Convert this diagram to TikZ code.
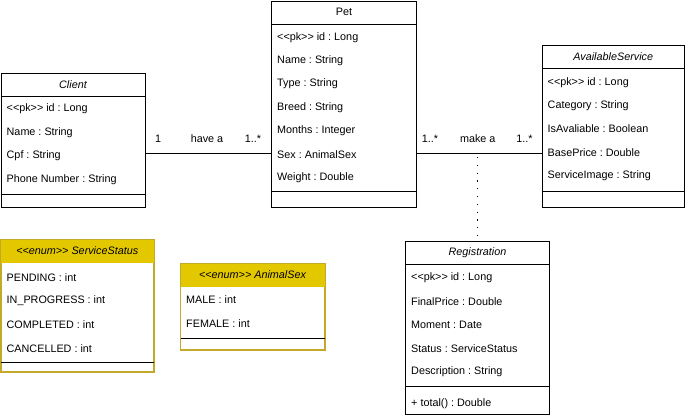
\documentclass[tikz,border=0pt]{standalone}
\usepackage{fontspec}
\setmainfont{Liberation Sans}
\usetikzlibrary{positioning}
\definecolor{enumfill}{HTML}{E3C800}
\definecolor{enumline}{HTML}{C4A82A}
\frenchspacing

\tikzset{
  box/.style={draw, line width=1pt, rectangle, anchor=north west, inner sep=0pt},
  ebox/.style={box, draw=enumline},
  attr/.style={anchor=west, inner sep=0pt, yshift=-1.5pt, font=\fontsize{10.8}{13}\selectfont},
  ttl/.style={inner sep=0pt, font=\fontsize{10.8}{13}\selectfont},
  sep/.style={line width=1pt},
  assoc/.style={line width=1pt},
  mult/.style={inner sep=0pt, yshift=14pt, font=\fontsize{10.8}{13}\selectfont},
  assocdot/.style={line width=1.2pt, dash pattern=on 1.2pt off 6.6pt},
}

\begin{document}
\begin{tikzpicture}[x=1pt, y=-1pt]
  \useasboundingbox (0,0) rectangle (685,415);

  % Client
  \node[box, minimum width=144, minimum height=134] (client) at (0.5,73) {};
  \node[ttl, font=\fontsize{10.8}{13}\selectfont\itshape] (clientt) at ([yshift=-11.5pt]client.north) {Client};
  \draw[sep] ([yshift=-23pt]client.north west) -- ([yshift=-23pt]client.north east);
  \node[attr] (c1) at ([shift={(6,34)}]client.north west) {{<}{<}pk{>}{>} id : Long};
  \node[attr] (c2) at ([shift={(6,58)}]client.north west) {Name : String};
  \node[attr] (c3) at ([shift={(6,81)}]client.north west) {Cpf : String};
  \node[attr] (c4) at ([shift={(6,105)}]client.north west) {Phone Number : String};
  \draw[sep] ([yshift=14pt]client.south west) -- ([yshift=14pt]client.south east);

  % Pet
  \node[box, minimum width=145, minimum height=206.5] (pet) at (271,0.5) {};
  \node[ttl] (pett) at ([yshift=-11.5pt]pet.north) {Pet};
  \draw[sep] ([yshift=-23.5pt]pet.north west) -- ([yshift=-23.5pt]pet.north east);
  \node[attr] (p1) at ([shift={(6,35.5)}]pet.north west) {{<}{<}pk{>}{>} id : Long};
  \node[attr] (p2) at ([shift={(6,58.5)}]pet.north west) {Name : String};
  \node[attr] (p3) at ([shift={(6,81.5)}]pet.north west) {Type : String};
  \node[attr] (p4) at ([shift={(6,105.5)}]pet.north west) {Breed : String};
  \node[attr] (p5) at ([shift={(6,128.5)}]pet.north west) {Months : Integer};
  \node[attr] (p6) at ([shift={(6,152.5)}]pet.north west) {Sex : AnimalSex};
  \node[attr] (p7) at ([shift={(6,175.5)}]pet.north west) {Weight : Double};
  \draw[sep] ([yshift=17pt]pet.south west) -- ([yshift=17pt]pet.south east);
  \coordinate (lnk) at ([yshift=1.5pt]p6.west);

  % AvailableService
  \node[box, minimum width=142.5, minimum height=162] (serv) at (541.5,45) {};
  \node[ttl, font=\fontsize{10.8}{13}\selectfont\itshape] (servt) at ([yshift=-11.5pt]serv.north) {AvailableService};
  \draw[sep] ([yshift=-23pt]serv.north west) -- ([yshift=-23pt]serv.north east);
  \node[attr] (s1) at ([shift={(6,36)}]serv.north west) {{<}{<}pk{>}{>} id : Long};
  \node[attr] (s2) at ([shift={(6,59)}]serv.north west) {Category : String};
  \node[attr] (s3) at ([shift={(6,82)}]serv.north west) {IsAvaliable : Boolean};
  \node[attr] (s4) at ([shift={(6,106)}]serv.north west) {BasePrice : Double};
  \node[attr] (s5) at ([shift={(6,129)}]serv.north west) {ServiceImage : String};
  \draw[sep] ([yshift=17pt]serv.south west) -- ([yshift=17pt]serv.south east);

  % ServiceStatus
  \node[ebox, minimum width=152.5, minimum height=132] (stat) at (0.5,239) {};
  \fill[enumfill] ([shift={(0.5,0.5)}]stat.north west) rectangle ([shift={(-0.5,24)}]stat.north east);
  \draw[enumline, line width=0.8pt] (stat.north west) rectangle (stat.south east);
  \node[ttl, font=\fontsize{10.8}{13}\selectfont\itshape] (statt) at ([yshift=-12pt]stat.north) {{<}{<}enum{>}{>} ServiceStatus};
  \node[attr] (e1) at ([shift={(6,37)}]stat.north west) {PENDING : int};
  \node[attr] (e2) at ([shift={(6,60)}]stat.north west) {IN\_PROGRESS : int};
  \node[attr] (e3) at ([shift={(6,84)}]stat.north west) {COMPLETED : int};
  \node[attr] (e4) at ([shift={(6,108)}]stat.north west) {CANCELLED : int};
  \draw[sep] ([shift={(0.5,-10)}]stat.south west) -- ([shift={(-0.5,-10)}]stat.south east);

  % AnimalSex
  \node[ebox, minimum width=144, minimum height=86] (sex) at (180,263) {};
  \fill[enumfill] ([shift={(0.5,0.5)}]sex.north west) rectangle ([shift={(-0.5,24)}]sex.north east);
  \draw[enumline, line width=0.8pt] (sex.north west) rectangle (sex.south east);
  \node[ttl, font=\fontsize{10.8}{13}\selectfont\itshape] (sext) at ([yshift=-12pt]sex.north) {{<}{<}enum{>}{>} AnimalSex};
  \node[attr] (x1) at ([shift={(6,35)}]sex.north west) {MALE : int};
  \node[attr] (x2) at ([shift={(6,59)}]sex.north west) {FEMALE : int};
  \draw[sep] ([shift={(0.5,-12)}]sex.south west) -- ([shift={(-0.5,-12)}]sex.south east);

  % Registration
  \node[box, minimum width=144, minimum height=173] (reg) at (405,241) {};
  \node[ttl, font=\fontsize{10.8}{13}\selectfont\itshape] (regt) at ([yshift=-12pt]reg.north) {Registration};
  \draw[sep] ([yshift=-23pt]reg.north west) -- ([yshift=-23pt]reg.north east);
  \node[attr] (r1) at ([shift={(6,35)}]reg.north west) {{<}{<}pk{>}{>} id : Long};
  \node[attr] (r2) at ([shift={(6,59)}]reg.north west) {FinalPrice : Double};
  \node[attr] (r3) at ([shift={(6,82)}]reg.north west) {Moment : Date};
  \node[attr] (r4) at ([shift={(6,106)}]reg.north west) {Status : ServiceStatus};
  \node[attr] (r5) at ([shift={(6,129)}]reg.north west) {Description : String};
  \draw[sep] ([yshift=29pt]reg.south west) -- ([yshift=29pt]reg.south east);
  \node[attr] (rm) at ([shift={(6,-13)}]reg.south west) {+ total() : Double};

  % associations
  \draw[assoc] (client.east |- lnk) -- node[mult, pos=0.1] (m1) {1}
    node[mult, pos=0.49] (m2) {have a}
    node[mult, pos=0.857] (m3) {1..*} (pet.west |- lnk);
  \draw[assoc] (pet.east |- lnk) -- node[mult, pos=0.104] (m4) {1..*}
    node[mult, pos=0.488] (m5) {make a}
    node[mult, pos=0.864] (m6) {1..*} (serv.west |- lnk);
  \coordinate (mk) at (reg.north |- lnk);
  \draw[assocdot] ([yshift=-4pt]mk) -- (reg.north);
\end{tikzpicture}
\end{document}
